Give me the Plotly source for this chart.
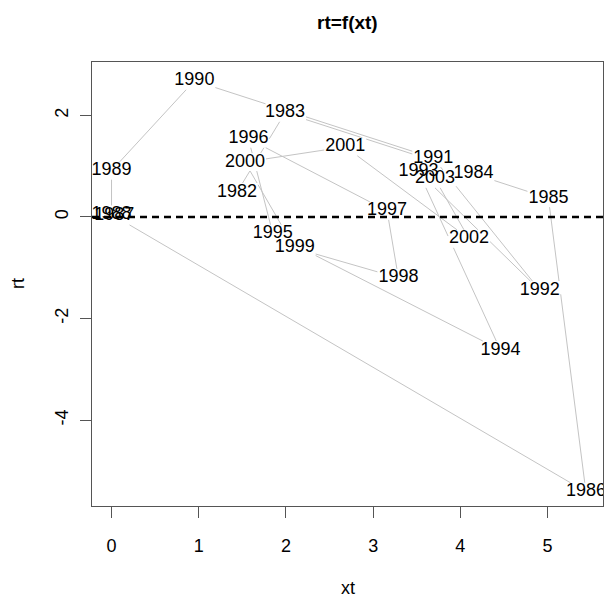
import plotly.graph_objects as go
import numpy as np

years = [1982, 1983, 1984, 1985, 1986, 1987, 1988, 1989, 1990, 1991, 1992,
         1993, 1994, 1995, 1996, 1997, 1998, 1999, 2000, 2001, 2002, 2003]
xt = [1.44, 1.99, 4.15, 5.01, 5.44, 0.03, 0.00, 0.00, 0.95, 3.69, 4.91,
      3.52, 4.46, 1.85, 1.57, 3.16, 3.29, 2.10, 1.53, 2.68, 4.10, 3.71]
rt = [0.49, 2.05, 0.85, 0.37, -5.41, 0.02, 0.05, 0.91, 2.68, 1.16, -1.44,
      0.89, -2.62, -0.33, 1.54, 0.12, -1.20, -0.61, 1.08, 1.38, -0.43, 0.75]
labels = [str(y) for y in years]

W, H = 605, 603
ML, MR, MT, MB = 92, 2, 62, 97
XR = [-0.224, 5.636]
YR = [-5.69, 3.05]

sx = (W - ML - MR) / (XR[1] - XR[0])
sy = (H - MT - MB) / (YR[1] - YR[0])

# label box half-sizes in pixels (white boxes behind labels hide the lines)
HW, HH = 21.0, 9.0

def to_px(x, y):
    return (x - XR[0]) * sx, (y - YR[0]) * sy

centers = [to_px(x, y) for x, y in zip(xt, rt)]

def clip_intervals(p, d, c, h):
    if abs(d) < 1e-12:
        return (-np.inf, np.inf) if abs(p - c) <= h else None
    a = (c - h - p) / d
    b = (c + h - p) / d
    return (min(a, b), max(a, b))

lx, ly = [], []
for i in range(len(xt) - 1):
    x1, y1 = centers[i]
    x2, y2 = centers[i + 1]
    dx, dy = x2 - x1, y2 - y1
    hidden = []
    for (cx, cy) in centers:
        ix = clip_intervals(x1, dx, cx, HW)
        iy = clip_intervals(y1, dy, cy, HH)
        if ix is None or iy is None:
            continue
        t0 = max(ix[0], iy[0], 0.0)
        t1 = min(ix[1], iy[1], 1.0)
        if t1 > t0:
            hidden.append((t0, t1))
    hidden.sort()
    visible = []
    cur = 0.0
    for t0, t1 in hidden:
        if t0 > cur:
            visible.append((cur, t0))
        cur = max(cur, t1)
    if cur < 1.0:
        visible.append((cur, 1.0))
    for t0, t1 in visible:
        ax_ = xt[i] + (xt[i + 1] - xt[i]) * t0
        ay_ = rt[i] + (rt[i + 1] - rt[i]) * t0
        bx_ = xt[i] + (xt[i + 1] - xt[i]) * t1
        by_ = rt[i] + (rt[i + 1] - rt[i]) * t1
        lx += [ax_, bx_, None]
        ly += [ay_, by_, None]

FONT = "Liberation Sans, Arial, Helvetica, sans-serif"

fig = go.Figure()
fig.add_trace(go.Scatter(x=lx, y=ly, mode="lines",
                         line=dict(color="#c4c4c4", width=1),
                         hoverinfo="skip", showlegend=False))
fig.add_trace(go.Scatter(x=xt, y=rt, mode="text", text=labels,
                         textposition="middle center",
                         textfont=dict(family=FONT, size=18, color="black"),
                         showlegend=False, cliponaxis=True))

fig.add_shape(type="line", xref="paper", yref="y", x0=0, x1=1, y0=0, y1=0,
              line=dict(color="black", width=2.5, dash="7px,5px"), layer="above")

fig.update_layout(
    width=W, height=H,
    margin=dict(l=ML, r=MR, t=MT, b=MB),
    paper_bgcolor="white", plot_bgcolor="white",
    font=dict(family=FONT, size=18, color="black"),
    showlegend=False,
    annotations=[
        dict(text="<b>rt=f(xt)</b>", xref="paper", yref="paper", x=0.5, y=1,
             xanchor="center", yanchor="middle", yshift=40, showarrow=False,
             font=dict(family=FONT, size=19, color="black")),
        dict(text="xt", xref="paper", yref="paper", x=0.5, y=0,
             xanchor="center", yanchor="middle", yshift=-82, showarrow=False,
             font=dict(family=FONT, size=18, color="black")),
        dict(text="rt", xref="paper", yref="paper", x=0, y=0.5,
             xanchor="center", yanchor="middle", xshift=-74, textangle=-90,
             showarrow=False, font=dict(family=FONT, size=18, color="black")),
    ],
)
fig.update_xaxes(range=XR, tickvals=[0, 1, 2, 3, 4, 5], ticktext=["0", "1", "2", "3", "4", "5"],
                 showgrid=False, zeroline=False, showline=True, mirror=True,
                 linecolor="#555555", linewidth=1, ticks="outside", ticklen=11,
                 tickcolor="#555555", tickfont=dict(family=FONT, size=18),
                 ticklabelstandoff=12)
fig.update_yaxes(range=YR, tickvals=[-4, -2, 0, 2], ticktext=["-4", "-2", "0", "2"],
                 showgrid=False, zeroline=False, showline=True, mirror=True,
                 linecolor="#555555", linewidth=1, ticks="outside", ticklen=11,
                 tickcolor="#555555", tickfont=dict(family=FONT, size=18),
                 tickangle=-90, ticklabelstandoff=5)

fig.write_html("out.html",
               config={"displayModeBar": False},
               post_script="document.body.style.margin='0';document.body.style.overflow='hidden';")
